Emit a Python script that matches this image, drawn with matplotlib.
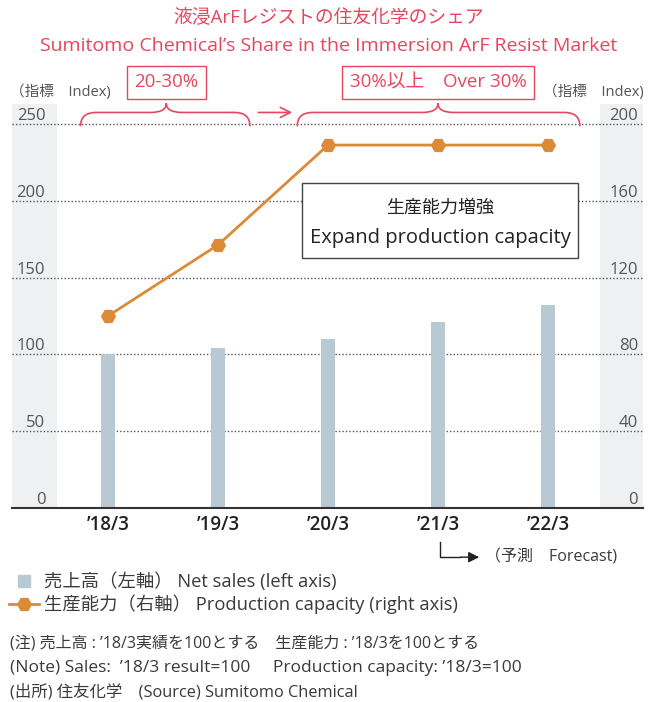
import matplotlib.pyplot as plt
from matplotlib.path import Path
from matplotlib.patches import PathPatch, Rectangle
from matplotlib.lines import Line2D

# Latin glyphs from Open Sans, Japanese falls through to Noto CJK
plt.rcParams['font.family'] = ['Open Sans', 'Noto Sans CJK JP', 'DejaVu Sans']

categories = ['’18/3', '’19/3', '’20/3', '’21/3', '’22/3']
net_sales = [100, 104, 110, 121, 132]          # left axis
capacity = [100, 137, 189, 189, 189]           # right axis
left_ticks = [0, 50, 100, 150, 200, 250]
right_ticks = [0, 40, 80, 120, 160, 200]

RED = '#e8455e'
BAR = '#b9c9d3'
ORANGE = '#dc8a35'
TXT = '#3a3a3a'
BAND = '#eff0f2'

W, H = 658, 702
fig = plt.figure(figsize=(W / 100, H / 100), dpi=100)

# axes placed in pixel terms
ax_l, ax_r, ax_b, ax_t = 12, 643, 508, 104
ax = fig.add_axes([ax_l / W, 1 - ax_b / H, (ax_r - ax_l) / W, (ax_b - ax_t) / H])
x = list(range(len(categories)))
ax.set_xlim(-0.873, 4.864)
ax.set_ylim(0, 263)

ax2 = ax.twinx()
ax2.set_ylim(0, 263 * 0.8)

# grey bands behind the tick labels
ax.axvspan(-0.873, -0.464, color=BAND, zorder=0, lw=0)
ax.axvspan(4.473, 4.864, color=BAND, zorder=0, lw=0)

for t in left_ticks[1:]:
    ax.axhline(t, color='#555555', lw=1, ls=(0, (1, 1.5)), zorder=1)

ax.bar(x, net_sales, width=0.13, color=BAR, zorder=2)
ax2.plot(x, capacity, color=ORANGE, lw=2, marker='H', markersize=11,
         markeredgewidth=0, zorder=3)

for s in ['top', 'left', 'right']:
    ax.spines[s].set_visible(False)
    ax2.spines[s].set_visible(False)
ax2.spines['bottom'].set_visible(False)
ax.spines['bottom'].set_color('#333333')
ax.spines['bottom'].set_linewidth(1.5)

ax.set_xticks(x, categories, fontsize=13.5, color='#222222', fontweight='semibold')
ax.tick_params(axis='x', length=0, pad=5)
ax.set_yticks(left_ticks, [str(v) for v in left_ticks])
ax.tick_params(axis='y', length=0, pad=-24, labelsize=12, labelcolor='#555555')
for lbl in ax.get_yticklabels():
    lbl.set_va('bottom')
ax2.set_yticks(right_ticks, [str(v) for v in right_ticks])
ax2.tick_params(axis='y', length=0, pad=-3.5, labelsize=12, labelcolor='#555555')
for lbl in ax2.get_yticklabels():
    lbl.set_va('bottom')
    lbl.set_ha('right')


def brace(x0, x1, xc, yb=248.5, ym=257.5, yp=263.5, r=0.14):
    verts = [(x0, yb), (x0, ym), (x0 + r, ym), (xc - r, ym), (xc, ym), (xc, yp),
             (xc, ym), (xc + r, ym), (x1 - r, ym), (x1, ym), (x1, yb)]
    codes = [Path.MOVETO, Path.CURVE3, Path.CURVE3, Path.LINETO, Path.CURVE3, Path.CURVE3,
             Path.CURVE3, Path.CURVE3, Path.LINETO, Path.CURVE3, Path.CURVE3]
    ax.add_patch(PathPatch(Path(verts, codes), fc='none', ec=RED, lw=1.2, clip_on=False, zorder=5))


brace(-0.25, 1.29, 0.53)
brace(1.72, 4.29, 3.0)

box_kw = dict(boxstyle='square,pad=0.4', fc='white', ec=RED, lw=1)
ax.text(0.53, 277, '20-30%', color=RED, fontsize=13.5, ha='center', va='center',
        bbox=box_kw, clip_on=False)
ax.text(3.0, 277, '30%以上　Over 30%', color=RED, fontsize=13.5, ha='center', va='center',
        bbox=box_kw, clip_on=False)
ax.annotate('', xy=(1.70, 257.5), xytext=(1.34, 257.5),
            arrowprops=dict(arrowstyle='->', color=RED, lw=1.2, mutation_scale=18),
            annotation_clip=False)

# capacity expansion callout
ax.add_patch(Rectangle((1.764, 162.8), 2.509, 48.8, fc='white', ec='#444444', lw=1, zorder=6))
ax.text(3.018, 195.3, '生産能力増強', color='#222222', fontsize=13,
        ha='center', va='center', zorder=7)
ax.text(3.018, 175.8, 'Expand production capacity', color='#222222', fontsize=14.5,
        ha='center', va='center', zorder=7)

# forecast marker under '21/3
ax.plot([3.02, 3.02, 3.2], [-22, -32, -32], color='#222222', lw=1, clip_on=False)
ax.annotate('', xy=(3.40, -32), xytext=(3.18, -32),
            arrowprops=dict(arrowstyle='-|>', color='#222222', lw=1, mutation_scale=16),
            annotation_clip=False)
ax.text(3.43, -32, '（予測　Forecast)', color=TXT, fontsize=11.5, ha='left', va='center',
        clip_on=False)

# titles and axis captions
fig.text(0.5, 1 - 18 / H, '液浸ArFレジストの住友化学のシェア', color=RED, fontsize=13.5,
         ha='center', va='center')
fig.text(0.5, 1 - 46 / H, 'Sumitomo Chemical’s Share in the Immersion ArF Resist Market',
         color=RED, fontsize=14, ha='center', va='center')
fig.text(10 / W, 1 - 92 / H, '（指標　Index)', color='#555555', fontsize=10.5, ha='left', va='center')
fig.text(644 / W, 1 - 92 / H, '（指標　Index)', color='#555555', fontsize=10.5, ha='right', va='center')

handles = [Line2D([], [], marker='s', ls='none', color=BAR, markersize=9),
           Line2D([], [], marker='H', color=ORANGE, lw=2, markersize=11, markeredgewidth=0)]
labels = ['売上高（左軸） Net sales (left axis)', '生産能力（右軸） Production capacity (right axis)']
fig.legend(handles, labels, loc='upper left', bbox_to_anchor=(2 / W, 1 - 565 / H),
           frameon=False, fontsize=13.2, handlelength=1.6, handletextpad=0.3,
           labelspacing=0.2, borderaxespad=0, labelcolor=TXT)

notes = ['(注) 売上高 : ’18/3実績を100とする　生産能力 : ’18/3を100とする',
         '(Note) Sales:  ’18/3 result=100     Production capacity: ’18/3=100',
         '(出所) 住友化学　(Source) Sumitomo Chemical']
note_sizes = [11.5, 12.5, 11.8]
for i, n in enumerate(notes):
    fig.text(10 / W, 1 - (643 + 24.5 * i) / H, n, color=TXT, fontsize=note_sizes[i],
             ha='left', va='center')

fig.savefig('out.png', dpi=100)
